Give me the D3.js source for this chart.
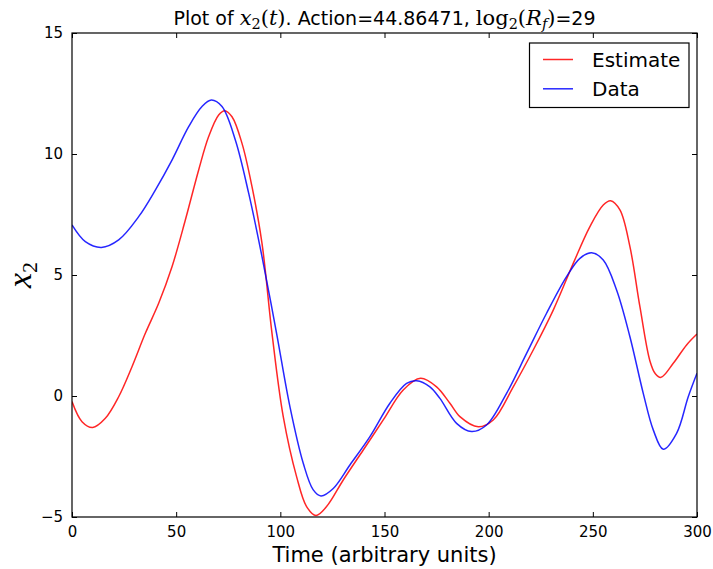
<!DOCTYPE html>
<html>
<head>
<meta charset="utf-8">
<script src="https://cdn.jsdelivr.net/npm/d3@7"></script>
<style>
  html, body { margin: 0; padding: 0; background: #fff; }
  svg { display: block; }
</style>
</head>
<body>
<svg id="chart" width="713" height="569"></svg>
<script>
// Estimated trajectory x2(t)
const estimateT = [0, 4.8, 9.9, 16, 22.4, 28.8, 35.2, 41.6, 48, 54.4, 60.8, 65.6, 70.4, 73.3, 76.8, 81.6, 86.4, 91.2, 96,
  101.4, 107.8, 112.6, 117.1, 122.2, 130.2, 139.8, 149.4, 159, 167.3, 175, 181.4, 186.2, 195, 202.2, 211.8, 221.4,
  231, 240.6, 248.6, 255, 258.5, 263, 267.8, 272.6, 277.4, 280, 282.7, 288.6, 295, 300];
const estimateX = [-0.23, -1.06, -1.30, -0.92, -0.03, 1.21, 2.59, 3.83, 5.34, 7.27, 9.34, 10.72, 11.61, 11.79, 11.54, 10.44, 8.65, 6.31, 2.59,
  -0.85, -3.33, -4.57, -4.94, -4.57, -3.47, -2.23, -0.99, 0.25, 0.73, 0.38, -0.30, -0.85, -1.27, -0.99, 0.38, 1.90,
  3.55, 5.48, 7.0, 7.89, 8.07, 7.69, 6.17, 3.69, 1.45, 0.92, 0.77, 1.35, 2.11, 2.56];

// Measured trajectory x2(t)
const dataT = [0, 6.4, 14.1, 22.4, 32, 40, 48, 56, 62.4, 66.9, 72, 78.4, 84.8, 91.2, 98.2, 104.6, 111, 115.8, 119.5,
  125.4, 133.4, 143, 152.6, 160.6, 165.4, 171.8, 176.6, 184.6, 191.8, 199, 208.6, 218.2, 227.8, 237.4, 243.8, 249.4,
  255, 261.4, 267.8, 274.2, 279, 283.8, 290.2, 295.8, 300];
const dataX = [7.07, 6.38, 6.14, 6.45, 7.41, 8.51, 9.75, 11.13, 11.96, 12.23, 11.96, 10.58, 8.38, 5.76, 2.59, -0.44, -2.78, -3.88, -4.13,
  -3.82, -2.85, -1.68, -0.30, 0.52, 0.63, 0.38, -0.10, -1.13, -1.47, -1.20, 0.11, 1.76, 3.42, 4.93, 5.69, 5.92,
  5.62, 4.38, 2.45, 0.11, -1.40, -2.20, -1.54, -0.03, 0.94];

const xTicks = [0, 50, 100, 150, 200, 250, 300];
const yTicks = [-5, 0, 5, 10, 15];
const seriesNames = ["Estimate", "Data"];
const seriesColors = ["#ff0000", "#0000ff"];

(function draw() {
  const svg = d3.select("#chart");
  const margin = { left: 72, right: 16, top: 33, bottom: 52 };
  const W = 713, H = 569;
  const x = d3.scaleLinear().domain([0, 300]).range([margin.left, W - margin.right]);
  const y = d3.scaleLinear().domain([-5, 15]).range([H - margin.bottom, margin.top]);

  const sans = "'DejaVu Sans', sans-serif";
  const serif = "'Liberation Serif', 'DejaVu Serif', serif";
  const mathSerif = "'DejaVu Serif', serif";

  // Curves, clipped to the axes box
  svg.append("clipPath").attr("id", "plotclip").append("rect")
    .attr("x", x(0)).attr("y", y(15)).attr("width", x(300) - x(0)).attr("height", y(-5) - y(15));

  const line = d3.line().x(d => x(d[0])).y(d => y(d[1])).curve(d3.curveCatmullRom.alpha(0.5));
  const series = [
    d3.zip(estimateT, estimateX),
    d3.zip(dataT, dataX)
  ];
  const g = svg.append("g").attr("clip-path", "url(#plotclip)");
  series.forEach((s, i) => {
    g.append("path").datum(s)
      .attr("d", line)
      .attr("fill", "none")
      .attr("stroke", seriesColors[i])
      .attr("stroke-width", 1.5)
      .attr("stroke-opacity", 0.85);
  });

  // Axes: ticks point inward on all four sides
  const tickLen = 5;
  const axisB = d3.axisBottom(x).tickValues(xTicks).tickSizeInner(-tickLen).tickSizeOuter(0).tickPadding(9);
  const axisL = d3.axisLeft(y).tickValues(yTicks).tickSizeInner(-tickLen).tickSizeOuter(0).tickPadding(9);
  const axisT = d3.axisTop(x).tickValues(xTicks).tickSizeInner(-tickLen).tickSizeOuter(0).tickFormat("");
  const axisR = d3.axisRight(y).tickValues(yTicks).tickSizeInner(-tickLen).tickSizeOuter(0).tickFormat("");

  function style(sel) {
    sel.select(".domain").remove();
    sel.selectAll(".tick line").attr("stroke", "#000").attr("stroke-width", 1);
    sel.selectAll(".tick text").attr("fill", "#000").attr("font-family", sans).attr("font-size", 15);
  }
  svg.append("g").attr("transform", `translate(0,${y(-5)})`).call(axisB).call(style);
  svg.append("g").attr("transform", `translate(${x(0)},0)`).call(axisL).call(style);
  svg.append("g").attr("transform", `translate(0,${y(15)})`).call(axisT).call(style);
  svg.append("g").attr("transform", `translate(${x(300)},0)`).call(axisR).call(style);

  // Axes frame
  svg.append("rect")
    .attr("x", x(0)).attr("y", y(15))
    .attr("width", x(300) - x(0)).attr("height", y(-5) - y(15))
    .attr("fill", "none").attr("stroke", "#000").attr("stroke-width", 1.2);

  // Title with math parts
  const title = svg.append("text")
    .attr("x", (x(0) + x(300)) / 2).attr("y", 25)
    .attr("text-anchor", "middle")
    .attr("font-family", sans).attr("font-size", 19).attr("fill", "#000");
  const mathSize = 21, subSize = 14.5;
  const m = (txt, italic, size, dy) => {
    const t = title.append("tspan").attr("font-family", mathSerif).attr("font-size", size).text(txt);
    if (italic) t.attr("font-style", "italic");
    if (dy) t.attr("dy", dy);
    return t;
  };
  title.append("tspan").text("Plot of ");
  m("x", true, mathSize);
  m("2", false, subSize, 4);
  m("(", false, mathSize, -4);
  m("t", true, mathSize);
  m(")", false, mathSize);
  title.append("tspan").text(". Action=44.86471, ");
  m("log", false, mathSize);
  m("2", false, subSize, 4);
  m("(", false, mathSize, -4);
  m("R", true, mathSize);
  m("f", true, subSize, 4);
  m(")", false, mathSize, -4);
  title.append("tspan").text("=29");

  // Axis labels
  svg.append("text")
    .attr("x", (x(0) + x(300)) / 2).attr("y", 562)
    .attr("text-anchor", "middle")
    .attr("font-family", sans).attr("font-size", 21).attr("fill", "#000")
    .text("Time (arbitrary units)");

  const ylab = svg.append("text")
    .attr("transform", `translate(31,${(y(-5) + y(15)) / 2}) rotate(-90)`)
    .attr("text-anchor", "middle")
    .attr("font-family", serif).attr("fill", "#000");
  ylab.append("tspan").attr("font-style", "italic").attr("font-size", 34).text("x");
  ylab.append("tspan").attr("font-size", 22).attr("dy", 6).text("2");

  // Legend
  const lg = svg.append("g");
  lg.append("rect")
    .attr("x", 529.5).attr("y", 43)
    .attr("width", 159.5).attr("height", 64.5)
    .attr("fill", "#fff").attr("stroke", "#000").attr("stroke-width", 1.2);
  seriesNames.forEach((name, i) => {
    const cy = 59.5 + i * 29.3;
    lg.append("line")
      .attr("x1", 543).attr("x2", 573).attr("y1", cy).attr("y2", cy)
      .attr("stroke", seriesColors[i]).attr("stroke-width", 1.5).attr("stroke-opacity", 0.85);
    lg.append("text")
      .attr("x", 592).attr("y", cy + 7)
      .attr("font-family", sans).attr("font-size", 20).attr("fill", "#000")
      .text(name);
  });
})();
</script>
</body>
</html>
